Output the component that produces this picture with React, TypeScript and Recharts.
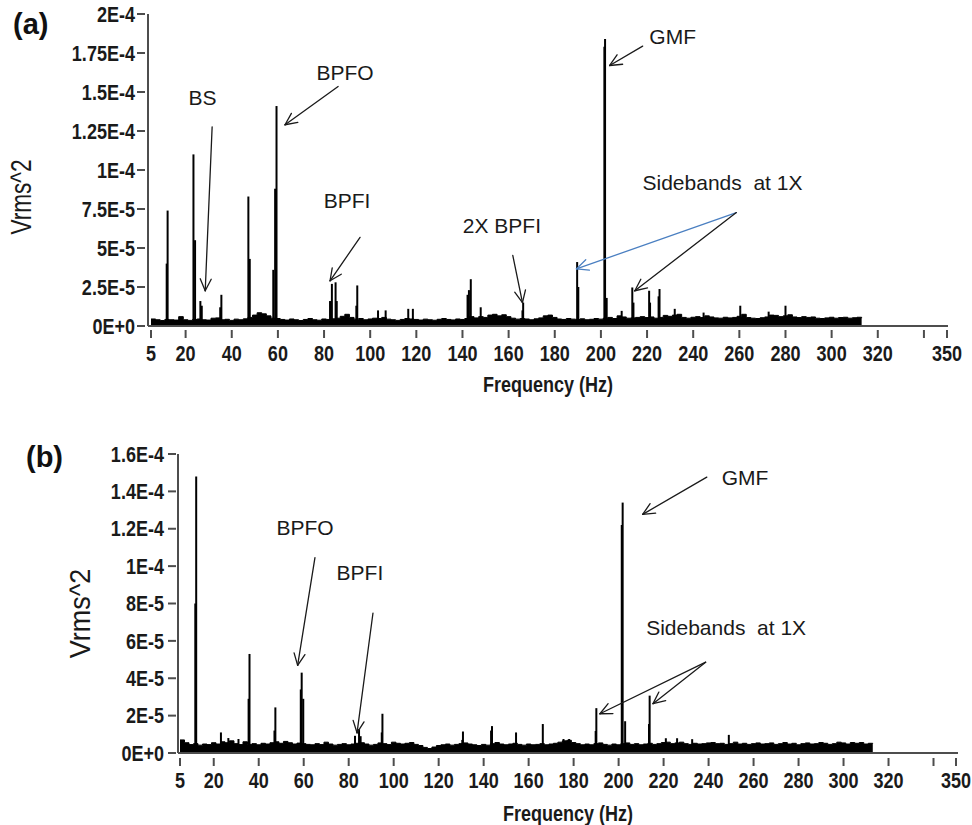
import React from 'react';
import { ComposedChart, Area, XAxis, YAxis, ReferenceLine, ReferenceDot } from 'recharts';

// ---------------- DATA ----------------
// Spectrum bins: 2 Hz apart, starting at 5 Hz. Values are Vrms^2 in units of 1E-6.
const FREQ_START_HZ = 5;
const FREQ_STEP_HZ = 2;

// (a) noise floor
const floorA = [
  4.5, 4, 3.5, 4.2, 4, 3.8, 6, 4, 3.6, 4.2,
  4.5, 4, 3.8, 5, 5.2, 4, 4.3, 3.6, 4.4, 4,
  4.6, 5.5, 7, 8.5, 7.8, 6.5, 5, 4.8, 4.2, 3.8,
  4.5, 4, 3.5, 4.2, 4.8, 4, 3.7, 4.5, 4.2, 4.6,
  5, 6.2, 7.5, 5.5, 4.4, 4.8, 4, 4.5, 5, 4.8,
  5.5, 4.4, 4, 3.6, 4.2, 4.8, 4.5, 4.2, 3.8, 4.4,
  4, 3.7, 4.3, 4.8, 4.2, 3.9, 4.5, 4.2, 4.8, 6,
  5.2, 6, 5.5, 7, 7.5, 6.5, 7.2, 6, 5, 4.4,
  4.8, 4.5, 4, 4.6, 5.2, 6.5, 7, 5.5, 4.5, 4.2,
  4.8, 4.4, 4.2, 4.6, 4, 4.3, 4.8, 4.4, 5, 5.5,
  4.8, 6.5, 5.8, 5, 5.2, 5.5, 6, 5.4, 5.8, 5,
  5.5, 6.8, 6.2, 7, 7.5, 5.5, 5, 5.6, 6, 5.4,
  6.5, 5.8, 5.2, 5, 5.6, 5.2, 5.5, 6.2, 7.5, 5.4,
  5, 4.8, 5.3, 5.8, 7, 6.8, 6, 6.5, 7.2, 5.8,
  5.4, 6, 5.5, 5.8, 5, 4.8, 5.2, 5.6, 5, 5.4,
  5.6, 5, 5.3, 5.6, 5,
];

// (a) spectral lines: [frequency Hz, Vrms^2 in 1E-6]
const peaksA: [number, number][] = [
  [11.8, 40], [12.2, 74], [23.4, 110], [24.1, 55], [26.4, 16], [27.0, 13],
  [35.0, 12], [35.5, 20], [47.2, 83], [47.8, 43], [58.0, 36], [58.8, 88], [59.4, 141],
  [82.6, 16], [83.4, 27], [85.0, 28], [85.5, 16], [94.0, 13], [94.4, 26],
  [103.4, 10], [106.7, 10], [116.5, 11], [118.5, 11],
  [142.2, 20], [142.8, 23], [143.6, 30], [147.9, 12], [166.0, 10], [166.3, 15],
  [189.7, 41], [190.2, 25], [201.5, 179], [201.8, 184], [202.5, 18], [209.0, 9.7],
  [213.6, 24.7], [214.1, 15], [220.9, 22.6], [221.3, 15], [225.0, 19], [225.4, 23.7],
  [232.0, 11], [244.5, 8.6], [260.4, 13], [272.7, 9.2], [280.0, 13],
];

// (b) noise floor
const floorB = [
  7, 5.5, 4.5, 5, 4.2, 4.8, 4.5, 5.5, 4.8, 6,
  5.5, 6.5, 5, 4.5, 6, 4.6, 5, 4.4, 5.2, 4.8,
  5.5, 6, 5.2, 6.2, 5.5, 4.8, 5.3, 5, 4.6, 4.4,
  5, 4.5, 5.8, 4.8, 4.2, 4.6, 5, 4.4, 4.8, 5.2,
  5.5, 4.8, 4.2, 4.6, 5.4, 5, 4.5, 5.8, 5.2, 4.8,
  5.2, 5.6, 4.6, 4, 3, 2.4, 3.2, 4, 4.4, 4.8,
  4.2, 4.6, 5, 5.4, 4.8, 4.4, 4, 4.6, 4.2, 5,
  5.6, 4.8, 4.4, 4.8, 5.2, 4.6, 4.2, 4.8, 4.4, 4.6,
  5, 4.4, 4.8, 5.2, 5.8, 6.5, 6.8, 5.6, 5, 4.4,
  4.8, 4.4, 5, 5.4, 4.6, 4.2, 4.8, 4.4, 5, 5.4,
  4.6, 5, 4.4, 4.8, 5.2, 4.6, 5, 5.6, 5.8, 5,
  5.4, 5.8, 5, 4.6, 5.2, 4.8, 5, 5.4, 5.6, 5,
  5.2, 4.6, 5, 5.8, 4.8, 5.2, 4.6, 5, 5.4, 4.8,
  5, 5.4, 4.6, 5, 5.6, 4.8, 5.2, 4.4, 5, 5.4,
  4.8, 5, 5.6, 5.2, 4.6, 5, 5.8, 5.4, 4.8, 5.6,
  5.2, 5.6, 4.8, 5.2, 5,
];

// (b) spectral lines
const peaksB: [number, number][] = [
  [11.8, 80], [12.2, 148], [23.2, 11], [26.5, 8], [31.0, 7.5], [35.5, 29], [35.9, 53],
  [47.0, 12], [47.4, 24.4], [58.7, 34], [59.1, 43], [59.8, 29],
  [82.8, 9.2], [84.6, 12.8], [85.3, 9], [94.7, 11], [95.0, 21],
  [130.5, 7], [130.8, 11.5], [143.3, 12], [143.7, 14.4], [154.4, 11], [166.3, 15.5],
  [175.5, 7.5], [178.0, 7.5], [189.8, 11.8], [190.1, 24],
  [201.4, 122], [201.8, 134], [202.9, 17], [213.5, 15.5], [213.8, 30.7],
  [221.0, 7.9], [226.0, 7.9], [232.7, 7.4], [249.0, 9.7],
];

const xTicks = [5, 20, 40, 60, 80, 100, 120, 140, 160, 180, 200, 220, 240, 260, 280, 300, 320, 340, 350];
const xTickLabels = ['5', '20', '40', '60', '80', '100', '120', '140', '160', '180', '200', '220', '240', '260', '280', '300', '320', '', '350'];

const yTicksA = [0, 25, 50, 75, 100, 125, 150, 175, 200];
const yTickLabelsA = ['0E+0', '2.5E-5', '5E-5', '7.5E-5', '1E-4', '1.25E-4', '1.5E-4', '1.75E-4', '2E-4'];
const yTicksB = [0, 20, 40, 60, 80, 100, 120, 140, 160];
const yTickLabelsB = ['0E+0', '2E-5', '4E-5', '6E-5', '8E-5', '1E-4', '1.2E-4', '1.4E-4', '1.6E-4'];

// annotations (anchored in data coordinates)
const notesA = [
  { text: 'BS', f: 27.3, v: 146.5 },
  { text: 'BPFO', f: 89.1, v: 162.6 },
  { text: 'BPFI', f: 90.0, v: 80.6 },
  { text: '2X BPFI', f: 157.1, v: 64.5 },
  { text: 'GMF', f: 231.1, v: 185.8 },
  { text: 'Sidebands\u00a0\u00a0at 1X', f: 252.7, v: 92.3 },
];
const arrowsA = [
  { from: [31.5, 127.7], to: [28.5, 22.6], blue: false },
  { from: [86.1, 153.5], to: [63.1, 129], blue: false },
  { from: [95.6, 56.8], to: [82.6, 29], blue: false },
  { from: [161.8, 45.2], to: [166.0, 15], blue: false },
  { from: [218.1, 179.4], to: [203.8, 167], blue: false },
  { from: [258.7, 72.7], to: [189.4, 36.6], blue: true },
  { from: [258.7, 72.7], to: [214.7, 22.6], blue: false },
];
const notesB = [
  { text: 'BPFO', f: 60.6, v: 120.7 },
  { text: 'BPFI', f: 85.0, v: 96.4 },
  { text: 'GMF', f: 256.2, v: 147.6 },
  { text: 'Sidebands\u00a0\u00a0at 1X', f: 247.8, v: 67.3 },
];
const arrowsB = [
  { from: [65.0, 104.5], to: [57.3, 46.9], blue: false },
  { from: [90.8, 74.9], to: [83.7, 10.8], blue: false },
  { from: [239.2, 147.6], to: [210.7, 127.7], blue: false },
  { from: [238.7, 48.6], to: [191.7, 21], blue: false },
  { from: [238.7, 48.6], to: [215.3, 26.4], blue: false },
];

// ---------------- STYLE ----------------
const FRAME = '#4d4d4d';
const TICK_FONT = '"Liberation Sans", Arial, sans-serif';
const NOTE_FONT = '"Liberation Sans", Arial, sans-serif';
const TEXT_COLOR = '#1a1a1a';
const CONDENSE = 0.82;

// condensed bold text (like the original's narrow axis font)
function CondText(props: { x: number; y: number; anchor: 'start' | 'middle' | 'end'; children: React.ReactNode; size?: number }) {
  const { x, y, anchor, children, size = 22 } = props;
  return (
    <text transform={`translate(${x} ${y}) scale(${CONDENSE} 1)`} x={0} y={0} textAnchor={anchor} dominantBaseline="central"
      fontFamily={TICK_FONT} fontWeight="bold" fontSize={size} fill={TEXT_COLOR}>{children}</text>
  );
}

function Arrow(props: any) {
  const { x1, y1, x2, y2, color } = props;
  if ([x1, y1, x2, y2].some((n) => typeof n !== 'number' || isNaN(n))) return null;
  const ang = Math.atan2(y2 - y1, x2 - x1);
  const L = 13;
  const a = (25 * Math.PI) / 180;
  const hx1 = x2 - L * Math.cos(ang - a);
  const hy1 = y2 - L * Math.sin(ang - a);
  const hx2 = x2 - L * Math.cos(ang + a);
  const hy2 = y2 - L * Math.sin(ang + a);
  return (
    <g stroke={color} strokeWidth={1.3} fill="none" strokeLinecap="round">
      <line x1={x1} y1={y1} x2={x2} y2={y2} />
      <line x1={x2} y1={y2} x2={hx1} y2={hy1} />
      <line x1={x2} y1={y2} x2={hx2} y2={hy2} />
    </g>
  );
}

type PanelProps = {
  height: number;
  margin: { top: number; right: number; left: number; bottom: number };
  yAxisWidth: number;
  xAxisHeight: number;
  floor: number[];
  peaks: [number, number][];
  yTicks: number[];
  yTickLabels: string[];
  yMax: number;
  xPadding: { left: number; right: number };
  notes: { text: string; f: number; v: number }[];
  arrows: { from: number[]; to: number[]; blue: boolean }[];
  xTickGeom: [number, number, number];
  yTickGeom: [number, number, number];
  xTitleOffset: number;
  yTitleX: number;
  yTitleShift: number;
  yTitleSize: number;
  yTitleScale: number;
};

function Panel(p: PanelProps) {
  const data = p.floor.map((v, i) => ({ f: FREQ_START_HZ + i * FREQ_STEP_HZ, v }));
  const xTick = (props: any) => {
    const { x, y, payload } = props;
    const idx = xTicks.indexOf(payload.value);
    const label = idx >= 0 ? xTickLabels[idx] : '';
    return (
      <g>
        <line x1={x} x2={x} y1={y + p.xTickGeom[0]} y2={y + p.xTickGeom[1]} stroke={FRAME} strokeWidth={2} />
        <CondText x={x} y={y + p.xTickGeom[2]} anchor="middle">{label}</CondText>
      </g>
    );
  };
  const yTick = (props: any) => {
    const { x, y, payload } = props;
    const idx = p.yTicks.indexOf(payload.value);
    const label = idx >= 0 ? p.yTickLabels[idx] : '';
    return (
      <g>
        <line x1={x - p.yTickGeom[0]} x2={x - p.yTickGeom[1]} y1={y} y2={y} stroke={FRAME} strokeWidth={2} />
        <CondText x={x - p.yTickGeom[2]} y={y} anchor="end">{label}</CondText>
      </g>
    );
  };
  return (
    <ComposedChart width={972} height={p.height} data={data} margin={p.margin}>
      <XAxis
        dataKey="f"
        type="number"
        domain={[5, 350]}
        ticks={xTicks}
        interval={0}
        allowDataOverflow
        padding={p.xPadding}
        height={p.xAxisHeight}
        axisLine={{ stroke: FRAME, strokeWidth: 2 }}
        tickLine={false}
        tickSize={0}
        tickMargin={0}
        tick={xTick}
        label={{
          content: (lp: any) => {
            const vb = lp.viewBox || {};
            return (
              <CondText x={vb.x + vb.width / 2} y={vb.y + vb.height - p.xTitleOffset} anchor="middle">Frequency (Hz)</CondText>
            );
          },
        }}
      />
      <XAxis xAxisId="top" orientation="top" type="number" domain={[0, 1]} height={0} tick={false} tickLine={false}
        axisLine={{ stroke: FRAME, strokeWidth: 2 }} />
      <YAxis
        type="number"
        domain={[0, p.yMax]}
        ticks={p.yTicks}
        interval={0}
        allowDataOverflow
        width={p.yAxisWidth}
        axisLine={{ stroke: FRAME, strokeWidth: 2 }}
        tickLine={false}
        tickSize={0}
        tickMargin={0}
        tick={yTick}
        label={{
          content: (lp: any) => {
            const vb = lp.viewBox || {};
            const cx = p.yTitleX;
            const cy = vb.y + vb.height / 2 + p.yTitleShift;
            return (
              <text transform={`translate(${cx} ${cy}) rotate(-90) scale(${p.yTitleScale} 1)`} x={0} y={0}
                textAnchor="middle" dominantBaseline="central"
                fontFamily={NOTE_FONT} fontSize={p.yTitleSize} fill={TEXT_COLOR}>Vrms^2</text>
            );
          },
        }}
      />
      <YAxis yAxisId="right" orientation="right" type="number" domain={[0, 1]} width={0} tick={false} tickLine={false}
        axisLine={{ stroke: FRAME, strokeWidth: 2 }} />
      <Area
        type="stepAfter"
        dataKey="v"
        stroke="#000"
        strokeWidth={1}
        fill="#000"
        fillOpacity={1}
        isAnimationActive={false}
        dot={false}
        activeDot={false}
      />
      {p.peaks.map(([f, v], i) => (
        <ReferenceLine key={`pk${i}`} segment={[{ x: f, y: 0 }, { x: f, y: v }]} stroke="#000" strokeWidth={2} />
      ))}
      {p.arrows.map((a, i) => (
        <ReferenceLine
          key={`ar${i}`}
          segment={[{ x: a.from[0], y: a.from[1] }, { x: a.to[0], y: a.to[1] }]}
          shape={(sp: any) => <Arrow {...sp} color={a.blue ? '#4a7fc1' : '#1a1a1a'} />}
        />
      ))}
      {p.notes.map((n, i) => (
        <ReferenceDot
          key={`nt${i}`}
          x={n.f}
          y={n.v}
          r={1}
          shape={(sp: any) => (
            <text x={sp.cx} y={sp.cy} textAnchor="middle" dominantBaseline="central"
              fontFamily={NOTE_FONT} fontSize={21} fill={TEXT_COLOR}>{n.text}</text>
          )}
        />
      ))}
    </ComposedChart>
  );
}

export default function App() {
  return (
    <div style={{ position: 'absolute', left: 0, top: 0, width: 972, height: 825, background: '#fff', overflow: 'hidden' }}>
      <div style={{ position: 'absolute', left: 0, top: 0 }}>
        <Panel
          height={400}
          margin={{ top: 14, right: 24, left: 0, bottom: 0 }}
          yAxisWidth={148}
          xAxisHeight={74}
          floor={floorA}
          peaks={peaksA}
          yTicks={yTicksA}
          yTickLabels={yTickLabelsA}
          yMax={200}
          xPadding={{ left: 3, right: 1 }}
          notes={notesA}
          arrows={arrowsA}
          xTickGeom={[4, 12, 27]}
          yTickGeom={[11, 3, 13]}
          xTitleOffset={16}
          yTitleX={21}
          yTitleShift={27}
          yTitleSize={29}
          yTitleScale={0.78}
        />
      </div>
      <div style={{ position: 'absolute', left: 0, top: 400 }}>
        <Panel
          height={425}
          margin={{ top: 54, right: 14, left: 0, bottom: 0 }}
          yAxisWidth={178}
          xAxisHeight={72}
          floor={floorB}
          peaks={peaksB}
          yTicks={yTicksB}
          yTickLabels={yTickLabelsB}
          yMax={160}
          xPadding={{ left: 2, right: 2 }}
          notes={notesB}
          arrows={arrowsB}
          xTickGeom={[5, 13, 27]}
          yTickGeom={[10, 2, 14]}
          xTitleOffset={12}
          yTitleX={79}
          yTitleShift={10}
          yTitleSize={30}
          yTitleScale={0.9}
        />
      </div>
      <div style={{ position: 'absolute', left: 13, top: 7, fontFamily: NOTE_FONT, fontWeight: 'bold', fontSize: 29, lineHeight: '34px', color: '#111' }}>(a)</div>
      <div style={{ position: 'absolute', left: 26, top: 440, fontFamily: NOTE_FONT, fontWeight: 'bold', fontSize: 29, lineHeight: '34px', color: '#111' }}>(b)</div>
    </div>
  );
}
